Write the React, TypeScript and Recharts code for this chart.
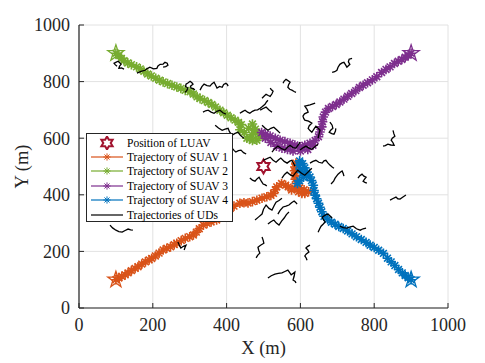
import { ScatterChart, Scatter, XAxis, YAxis, CartesianGrid, Legend } from 'recharts'

type Pt = [number, number]

const xTicks = [0, 200, 400, 600, 800, 1000]
const yTicks = [0, 200, 400, 600, 800, 1000]

const luav: Pt[] = [[500, 500]]

// SUAV trajectories
const suav1: Pt[] = [
  [100, 100], [108, 106], [116, 112], [125, 117], [133, 124], [142, 132], [152, 140], [160, 146],
  [170, 155], [180, 163], [190, 170], [197, 175], [207, 184], [217, 194], [228, 205], [238, 211],
  [248, 216], [258, 224], [265, 229], [277, 238], [288, 246], [300, 252], [310, 258], [318, 268],
  [326, 280], [337, 293], [347, 299], [358, 304], [373, 311], [382, 322], [392, 336], [400, 346],
  [410, 352], [420, 360], [436, 370], [447, 372], [458, 371], [470, 376], [482, 381], [496, 388],
  [509, 393], [520, 398], [527, 405], [532, 418], [536, 428], [549, 440], [560, 434], [567, 428],
  [576, 417], [585, 423], [595, 411], [604, 405], [612, 405], [622, 411], [610, 418], [598, 425],
  [590, 440], [586, 455], [585, 469], [584, 485], [585, 498], [588, 512],
]

const suav2: Pt[] = [
  [100, 900], [108, 892], [115, 882], [122, 874], [132, 866], [142, 860], [156, 852], [166, 845],
  [176, 836], [186, 827], [196, 820], [208, 812], [218, 805], [228, 799], [240, 793], [252, 787],
  [265, 781], [276, 776], [288, 769], [301, 764], [310, 756], [320, 746], [328, 740], [340, 733],
  [350, 726], [360, 719], [370, 710], [382, 699], [392, 690], [402, 681], [412, 672], [423, 664],
  [432, 656], [440, 648], [436, 630], [448, 620], [460, 635], [470, 650], [478, 632], [468, 612],
  [455, 600], [470, 592], [482, 593], [490, 605], [478, 618], [462, 598],
]

const suav3: Pt[] = [
  [900, 900], [892, 893], [884, 886], [875, 878], [865, 872], [855, 864], [843, 852], [832, 843],
  [820, 832], [807, 817], [795, 806], [782, 796], [770, 787], [760, 779], [750, 768], [739, 758],
  [728, 748], [718, 738], [707, 728], [697, 719], [687, 712], [676, 705], [668, 692], [662, 675],
  [660, 658], [658, 640], [653, 622], [649, 605], [640, 592], [626, 582], [612, 575], [599, 570],
  [585, 576], [572, 582], [558, 588], [545, 593], [532, 600], [518, 608], [505, 614], [495, 620],
  [505, 600], [520, 585], [535, 572], [550, 565], [565, 560], [580, 555], [600, 555], [620, 560],
  [634, 575],
]

const suav4: Pt[] = [
  [900, 100], [892, 107], [884, 115], [876, 124], [866, 136], [856, 150], [846, 163], [836, 176],
  [825, 193], [812, 204], [800, 214], [789, 222], [778, 232], [765, 242], [752, 252], [740, 262],
  [728, 272], [716, 281], [704, 288], [694, 296], [684, 303], [674, 313], [664, 324], [658, 340],
  [653, 356], [649, 370], [644, 386], [640, 399], [637, 415], [635, 434], [630, 450], [626, 463],
  [617, 470], [607, 478], [600, 490], [596, 505], [598, 520], [606, 510], [612, 495], [618, 480],
  [608, 462], [598, 450], [592, 440],
]

// ground user (UD) random walks
const uds: Pt[][] = [
  [[103, 854], [98, 860], [95, 865], [101, 869], [106, 872], [111, 866], [114, 861], [110, 855], [108, 847], [115, 848], [122, 844]],
  [[157, 830], [168, 836], [179, 840], [185, 846], [192, 851], [202, 845], [211, 847], [214, 855], [220, 861], [228, 862], [233, 868], [239, 865], [241, 858], [235, 853], [228, 851]],
  [[287, 762], [292, 768], [295, 777], [289, 783], [290, 791], [296, 796], [301, 801], [306, 796], [309, 791], [302, 784], [304, 777], [310, 775], [314, 770]],
  [[328, 770], [333, 782], [339, 791], [347, 786], [355, 784], [360, 792], [366, 798], [370, 788], [374, 777], [381, 783], [388, 780], [392, 790], [398, 794], [402, 790], [404, 784]],
  [[436, 688], [443, 694], [450, 699], [457, 692], [463, 688], [470, 695], [477, 699], [484, 700], [491, 706], [497, 712], [504, 720], [508, 728], [512, 734]],
  [[336, 692], [343, 697], [350, 699], [358, 692], [366, 688], [374, 695], [382, 699], [390, 690], [398, 685]],
  [[369, 646], [378, 636], [388, 628], [396, 632], [404, 635], [408, 622], [415, 611], [423, 617], [431, 621], [438, 609], [447, 600]],
  [[686, 833], [693, 835], [699, 840], [702, 851], [707, 861], [713, 866], [718, 868], [722, 860], [726, 851], [730, 856], [734, 861], [730, 870], [732, 879], [740, 882]],
  [[553, 794], [556, 802], [561, 808], [567, 803], [572, 798], [568, 789], [566, 780], [571, 773], [577, 770], [583, 765], [588, 762]],
  [[640, 724], [626, 718], [612, 713], [618, 702], [621, 692], [611, 686], [607, 678], [609, 670], [612, 664], [622, 660], [631, 653], [624, 644], [621, 635], [626, 627], [631, 621], [637, 633], [642, 642], [649, 634], [653, 628], [650, 612], [648, 600]],
  [[680, 657], [686, 646], [688, 635], [682, 628], [678, 621], [685, 616], [691, 614], [695, 625], [696, 635]],
  [[851, 628], [853, 617], [856, 607], [849, 600], [846, 593], [851, 584], [854, 575], [845, 576], [837, 579], [830, 574], [824, 572]],
  [[843, 381], [851, 387], [859, 392], [864, 386], [870, 385], [878, 392], [886, 399]],
  [[756, 459], [761, 467], [767, 473], [772, 466], [778, 462], [774, 455], [770, 448], [775, 444], [780, 441]],
  [[683, 438], [690, 448], [694, 459], [698, 466], [702, 473], [708, 480], [713, 484], [716, 475], [718, 466]],
  [[626, 512], [634, 518], [642, 522], [650, 515], [659, 512], [664, 520], [669, 522], [675, 512], [680, 505], [686, 498], [691, 494]],
  [[499, 522], [508, 527], [518, 533], [526, 522], [534, 515], [541, 524], [547, 530], [556, 518], [564, 512], [571, 519], [577, 522], [582, 510], [585, 501]],
  [[523, 551], [530, 562], [539, 572], [549, 563], [558, 558], [565, 568], [572, 575], [580, 567], [588, 565], [594, 576], [599, 586]],
  [[599, 558], [607, 566], [615, 572], [623, 565], [631, 561], [640, 571], [648, 579]],
  [[415, 565], [420, 557], [425, 551], [432, 556], [439, 558], [446, 549], [453, 544]],
  [[463, 459], [470, 452], [477, 448], [483, 457], [488, 462], [494, 448], [499, 438], [505, 435], [509, 431]],
  [[550, 459], [557, 472], [564, 480], [572, 471], [580, 466], [587, 478], [593, 487], [603, 476], [612, 469], [622, 482], [631, 494]],
  [[477, 311], [487, 322], [496, 332], [500, 349], [507, 364], [515, 352], [523, 346], [529, 362], [534, 374], [542, 380], [550, 388]],
  [[512, 297], [520, 305], [528, 311], [535, 300], [542, 293], [549, 307], [556, 318], [562, 330], [569, 339]],
  [[648, 268], [652, 279], [656, 289], [662, 297], [667, 304], [662, 313], [659, 321], [667, 328], [675, 332], [681, 324], [686, 318]],
  [[707, 289], [716, 284], [726, 282], [735, 287], [743, 289], [752, 280], [762, 275], [770, 280], [778, 282]],
  [[539, 332], [545, 345], [553, 357], [561, 360], [569, 364], [576, 372], [583, 378], [588, 372], [591, 367]],
  [[496, 251], [499, 240], [501, 229], [492, 222], [485, 215], [487, 204], [490, 194], [484, 186], [480, 177]],
  [[512, 106], [521, 114], [531, 120], [540, 122], [550, 124], [558, 129], [566, 134], [571, 125], [575, 117], [580, 122], [585, 127], [583, 112], [580, 99], [586, 94], [588, 88]],
  [[626, 222], [619, 217], [615, 212], [620, 205], [623, 198], [616, 191], [612, 184], [616, 176], [618, 169]],
  [[268, 233], [272, 222], [276, 212], [283, 218], [290, 222], [287, 213], [285, 205]],
  [[84, 293], [91, 283], [100, 275], [108, 270], [117, 268], [125, 274], [133, 279], [140, 276], [146, 275]],
  [[496, 741], [502, 749], [507, 755], [513, 751], [518, 748], [523, 757], [526, 766], [521, 772], [518, 777]],
  [[491, 699], [499, 705], [507, 710], [515, 700], [523, 692]],
  [[496, 646], [504, 636], [512, 628], [520, 635], [528, 639], [537, 628], [545, 618]],
]

const C1 = '#D95319'
const C2 = '#77AC30'
const C3 = '#7E2F8E'
const C4 = '#0072BD'
const CL = '#A2142F'
const AX = '#262626'
const FONT = '"Liberation Serif", "Times New Roman", serif'

const toXY = (pts: Pt[]) => pts.map(([x, y]) => ({ x, y }))

function starPath(cx: number, cy: number, n: number, ro: number, ri: number) {
  let d = ''
  for (let i = 0; i < 2 * n; i++) {
    const a = -Math.PI / 2 + (i * Math.PI) / n
    const r = i % 2 ? ri : ro
    d += (i ? 'L' : 'M') + (cx + r * Math.cos(a)).toFixed(2) + ',' + (cy + r * Math.sin(a)).toFixed(2)
  }
  return d + 'Z'
}

function asteriskPath(cx: number, cy: number, r: number) {
  const d = r * 0.707
  return `M${cx - r},${cy}H${cx + r}M${cx},${cy - r}V${cy + r}M${cx - d},${cy - d}L${cx + d},${cy + d}M${cx - d},${cy + d}L${cx + d},${cy - d}`
}

const asterisk = (color: string) => (p: any) =>
  <path d={asteriskPath(p.cx, p.cy, 4.8)} stroke={color} strokeWidth={1.6} fill="none" />

const pentagram = (color: string) => (p: any) =>
  <path d={starPath(p.cx, p.cy, 5, 8.5, 3.3)} stroke={color} strokeWidth={1.3} fill="none" strokeLinejoin="miter" />

const hexagram = (p: any) =>
  <path d={starPath(p.cx, p.cy, 6, 7, 4)} stroke={CL} strokeWidth={2} fill="none" />

const noDot = () => <g />

const legendItems = [
  { label: 'Position of LUAV', color: CL, kind: 'hex' },
  { label: 'Trajectory of SUAV 1', color: C1, kind: 'ast' },
  { label: 'Trajectory of SUAV 2', color: C2, kind: 'ast' },
  { label: 'Trajectory of SUAV 3', color: C3, kind: 'ast' },
  { label: 'Trajectory of SUAV 4', color: C4, kind: 'ast' },
  { label: 'Trajectories of UDs', color: '#000', kind: 'line' },
]

function LegendBox() {
  return (
    <div style={{ width: 147, height: 89, boxSizing: 'border-box', border: `1px solid ${AX}`, background: '#fff', paddingTop: 1.5, fontFamily: FONT, fontSize: 11.5, color: '#000' }}>
      {legendItems.map((it) => (
        <div key={it.label} style={{ height: 14.4, display: 'flex', alignItems: 'center', whiteSpace: 'nowrap' }}>
          <svg width={34} height={14} style={{ marginLeft: 3, marginRight: 3, flex: 'none' }}>
            {it.kind !== 'hex' && <line x1={1} y1={7} x2={33} y2={7} stroke={it.color} strokeWidth={1.2} />}
            {it.kind === 'ast' && <path d={asteriskPath(17, 7, 3.6)} stroke={it.color} strokeWidth={1} fill="none" />}
            {it.kind === 'hex' && <path d={starPath(17, 7, 6, 6.5, 3.7)} stroke={it.color} strokeWidth={2} fill="none" />}
          </svg>
          <span>{it.label}</span>
        </div>
      ))}
    </div>
  )
}

const tickText = { fontFamily: FONT, fontSize: 18, fill: AX }

const bottomTick = (p: any) => (
  <g>
    <line x1={p.x} y1={p.y} x2={p.x} y2={p.y - 5} stroke={AX} strokeWidth={1} />
    <text x={p.x} y={p.y + 17} dy="0.35em" textAnchor="middle" {...tickText}>{p.payload.value}</text>
  </g>
)
const leftTick = (p: any) => (
  <g>
    <line x1={p.x} y1={p.y} x2={p.x + 5} y2={p.y} stroke={AX} strokeWidth={1} />
    <text x={p.x - 9} y={p.y} dy="0.35em" textAnchor="end" {...tickText}>{p.payload.value}</text>
  </g>
)
const topTick = (p: any) => <line x1={p.x} y1={p.y} x2={p.x} y2={p.y + 5} stroke={AX} strokeWidth={1} />
const rightTick = (p: any) => <line x1={p.x} y1={p.y} x2={p.x - 5} y2={p.y} stroke={AX} strokeWidth={1} />

const xLabel = (p: any) => {
  const vb = p.viewBox
  return <text x={vb.x + vb.width / 2} y={vb.y + 46} textAnchor="middle" fontFamily={FONT} fontSize={18.5} fill={AX}>X (m)</text>
}
const yLabel = (p: any) => {
  const vb = p.viewBox
  const cx = vb.x + 22
  const cy = vb.y + vb.height / 2
  return <text x={cx} y={cy} dy="0.35em" textAnchor="middle" transform={`rotate(-90, ${cx}, ${cy})`} fontFamily={FONT} fontSize={18.5} fill={AX}>Y (m)</text>
}

export default function App() {
  const suavs = [
    { data: suav1, color: C1 },
    { data: suav2, color: C2 },
    { data: suav3, color: C3 },
    { data: suav4, color: C4 },
  ]
  return (
    <div style={{ position: 'absolute', left: 0, top: 0, width: 485, height: 363, background: '#fff' }}>
      <ScatterChart width={485} height={363} margin={{ top: 25, right: 37, bottom: 0, left: 0 }}>
        <CartesianGrid stroke="#e2e2e2" strokeWidth={1} />
        <XAxis type="number" dataKey="x" domain={[0, 1000]} ticks={xTicks} height={55} tickSize={0} tickMargin={0}
          axisLine={{ stroke: AX, strokeWidth: 1.2 }} tick={bottomTick} label={xLabel} />
        <YAxis type="number" dataKey="y" domain={[0, 1000]} ticks={yTicks} width={79} tickSize={0} tickMargin={0}
          axisLine={{ stroke: AX, strokeWidth: 1.2 }} tick={leftTick} label={yLabel} />
        <XAxis xAxisId="top" orientation="top" type="number" dataKey="x" domain={[0, 1000]} ticks={xTicks} height={0}
          tickSize={0} tickMargin={0} axisLine={{ stroke: AX, strokeWidth: 1.2 }} tick={topTick} />
        <YAxis yAxisId="right" orientation="right" type="number" dataKey="y" domain={[0, 1000]} ticks={yTicks} width={0}
          tickSize={0} tickMargin={0} axisLine={{ stroke: AX, strokeWidth: 1.2 }} tick={rightTick} />

        {suavs.map((s, i) => (
          <Scatter key={'s' + i} data={toXY(s.data)} line={{ stroke: s.color, strokeWidth: 1.5 }} lineType="joint"
            shape={asterisk(s.color)} isAnimationActive={false} />
        ))}
        {suavs.map((s, i) => (
          <Scatter key={'st' + i} data={toXY(s.data.slice(0, 1))} shape={pentagram(s.color)} isAnimationActive={false} />
        ))}
        <Scatter data={toXY(luav)} shape={hexagram} isAnimationActive={false} />
        {uds.map((u, i) => (
          <Scatter key={'u' + i} data={toXY(u)} line={{ stroke: '#000', strokeWidth: 1.3 }} lineType="joint"
            shape={noDot} isAnimationActive={false} />
        ))}

        <Legend layout="vertical" align="center" verticalAlign="middle" content={() => <LegendBox />}
          wrapperStyle={{ left: 86, top: 133, width: 147, height: 89, right: 'auto', bottom: 'auto' }} />
      </ScatterChart>
    </div>
  )
}
